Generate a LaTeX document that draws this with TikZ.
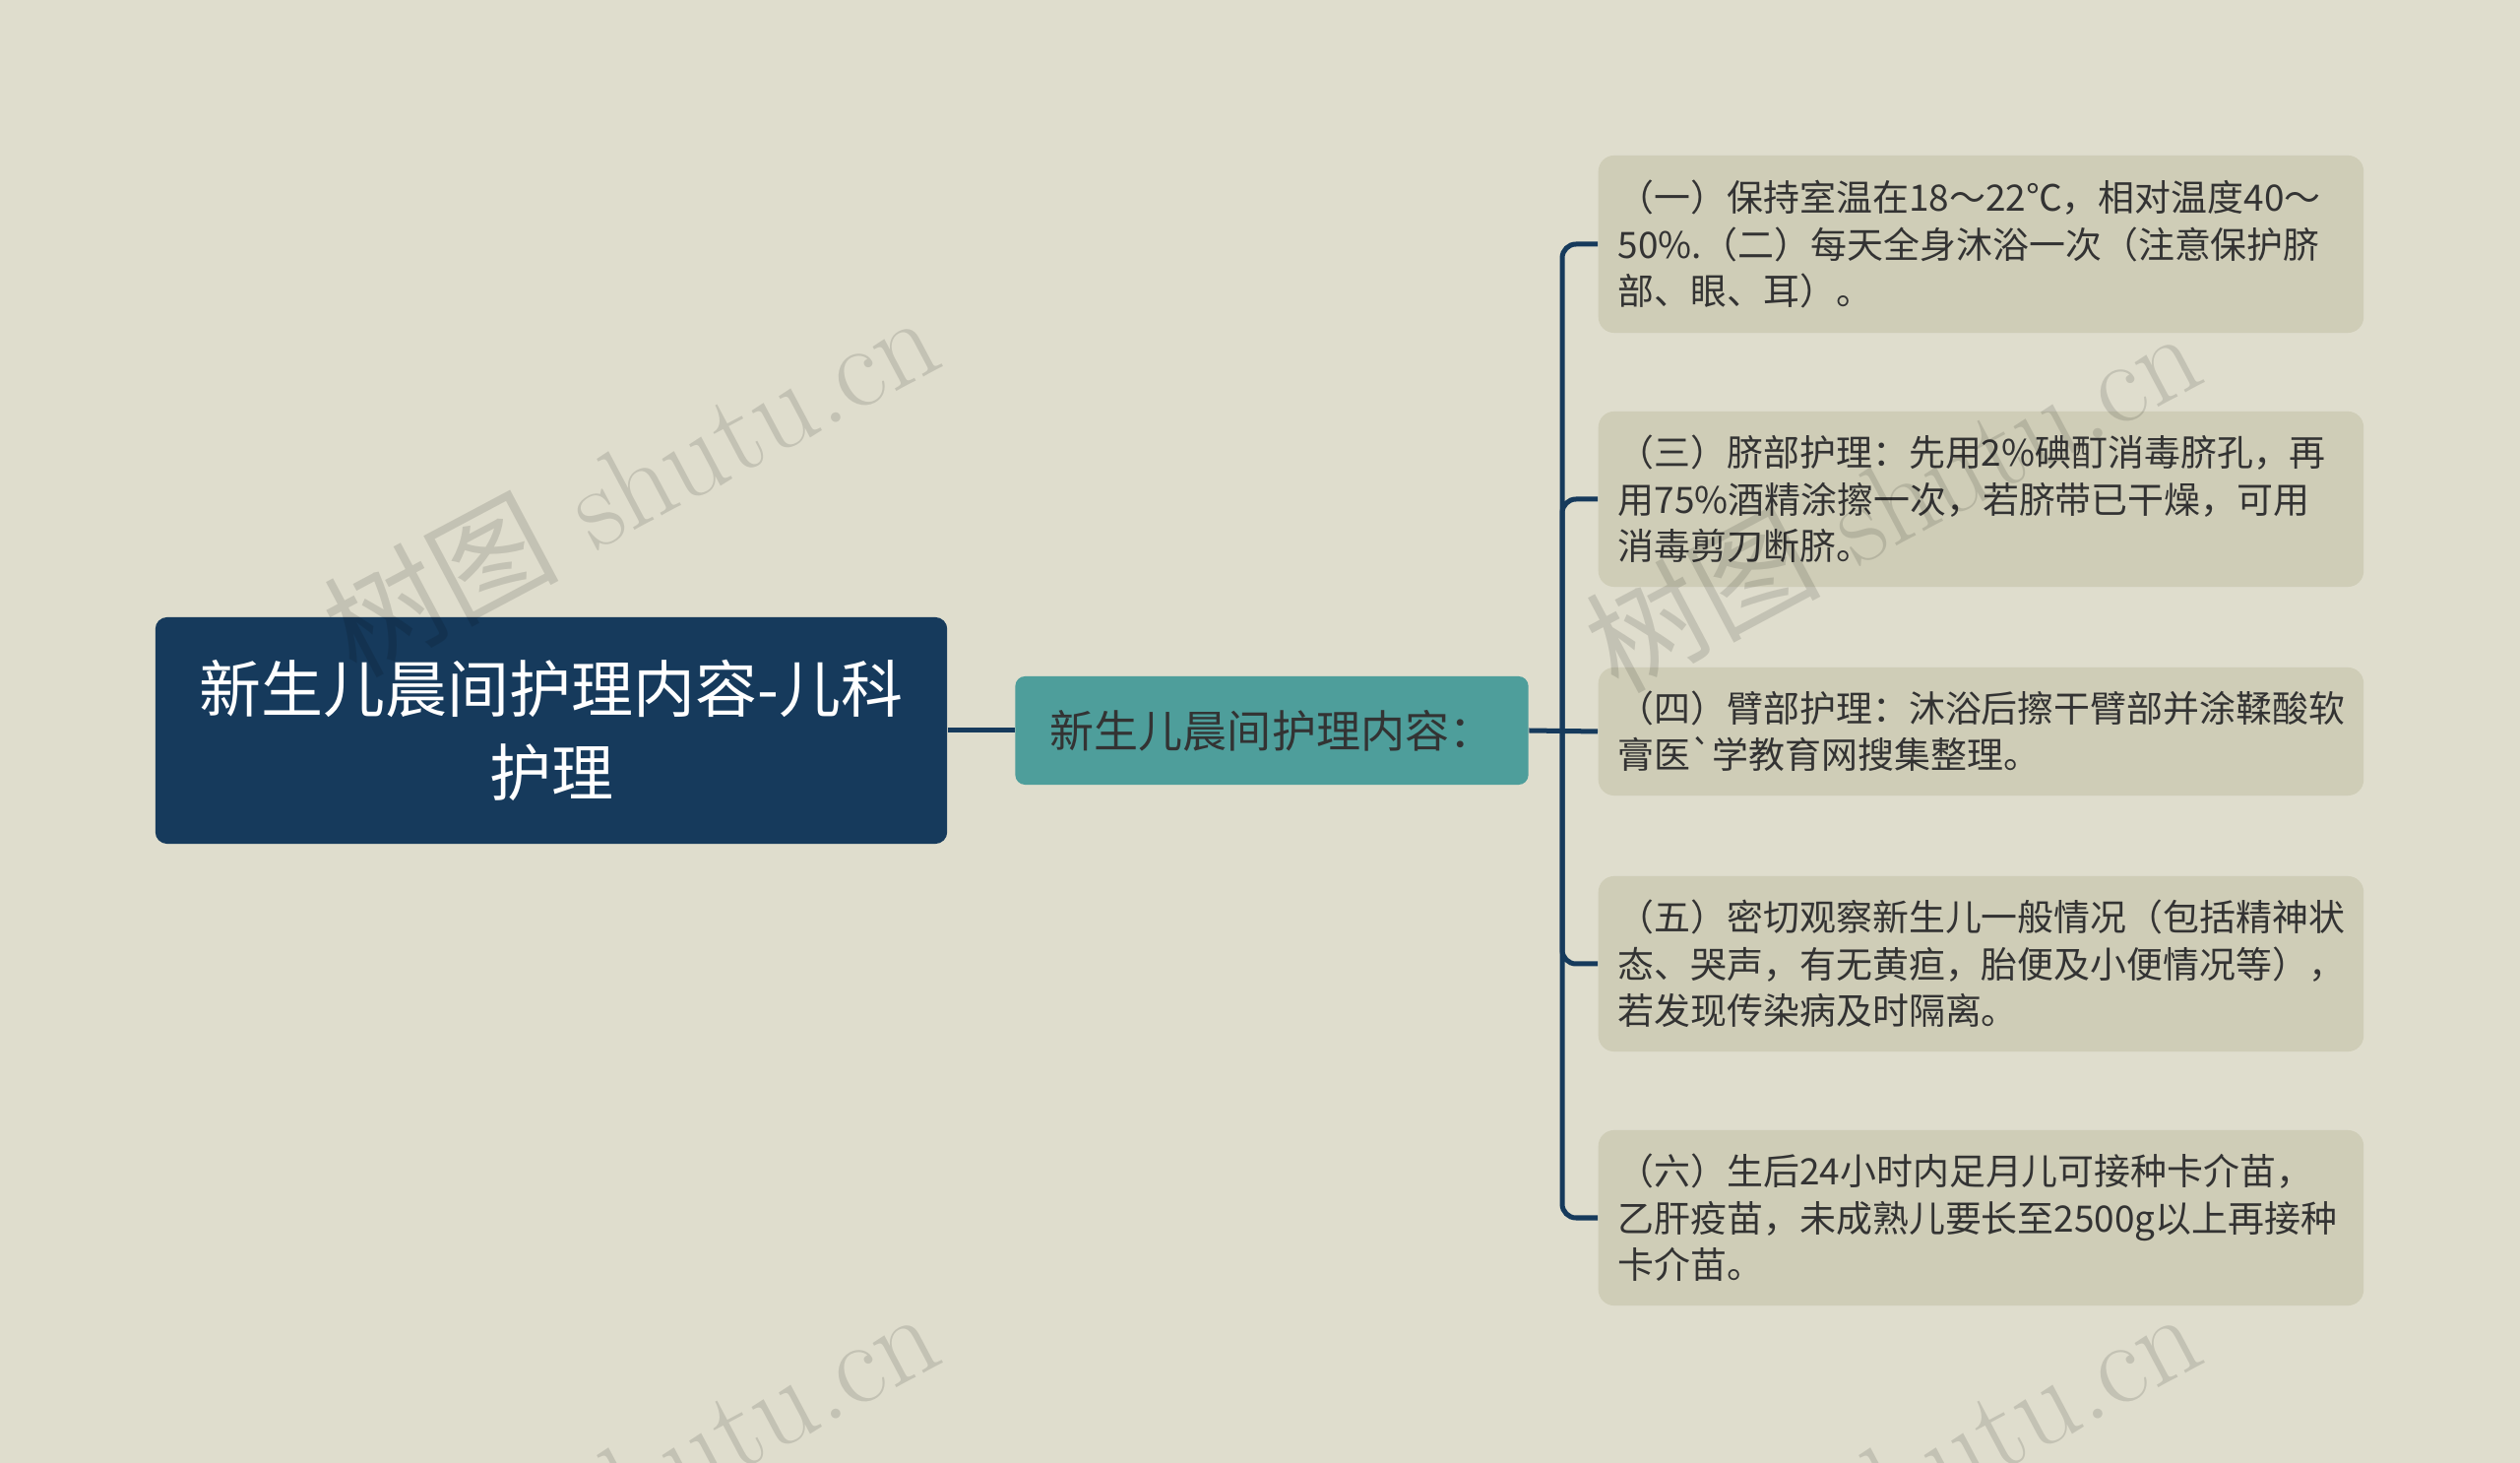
\documentclass[tikz,border=0pt]{standalone}
\usepackage{fontspec}
\newfontfamily\cjk{Noto Sans CJK SC}
\usepackage{tikz}
\usetikzlibrary{positioning}
\definecolor{bgcol}{HTML}{DFDDCD}
\definecolor{rootcol}{HTML}{163A5C}
\definecolor{midcol}{HTML}{4E9E9B}
\definecolor{leafcol}{HTML}{CFCDB7}
\definecolor{txtcol}{HTML}{333333}
\tikzstyle{rootbox} = [fill=rootcol, draw=none, rounded corners=0.12cm, minimum width=8.04cm, minimum height=2.3cm, text=white, align=center, font=\cjk\fontsize{17.9pt}{24.2pt}\selectfont]
\tikzstyle{midbox} = [fill=midcol, draw=none, rounded corners=0.1cm, minimum width=5.21cm, minimum height=1.1cm, text=txtcol, font=\cjk\fontsize{12.8pt}{16pt}\selectfont]
\tikzstyle{leafbox} = [fill=leafcol, draw=none, rounded corners=0.16cm, anchor=west, text width=7.37cm, inner xsep=0.2cm, align=left, text=txtcol, font=\cjk\fontsize{10.5pt}{13.45pt}\selectfont]
\tikzstyle{link} = [draw=rootcol, line width=0.05cm]
\tikzstyle{wmark} = [text=black, opacity=0.12, rotate=28, font=\fontsize{34pt}{38pt}\selectfont]

\begin{document}
\begin{tikzpicture}[x=0.01cm,y=-0.01cm]
    \fill [bgcol] (0,0) rectangle (2560,1486);
    \clip (0,0) rectangle (2560,1486);

    \node [rootbox] (root) at (560,742) {新生儿晨间护理内容-儿科\\护理};
    \node [midbox] (mid) at (1292,742) {新生儿晨间护理内容：};

    \node [leafbox, minimum height=1.8cm] (care1) at (1623,248) {（一）保持室温在18～22℃，相对温度40～\\50\%.（二）每天全身沐浴一次（注意保护脐\\部、眼、耳）。};
    \node [leafbox, minimum height=1.78cm] (care3) at (1623,507) {（三）脐部护理：先用2\%碘酊消毒脐孔，再\\用75\%酒精涂擦一次，若脐带已干燥，可用\\消毒剪刀断脐。};
    \node [leafbox, minimum height=1.3cm] (care4) at (1623,743) {（四）臂部护理：沐浴后擦干臂部并涂鞣酸软\\膏医`学教育网搜集整理。};
    \node [leafbox, minimum height=1.78cm] (care5) at (1623,979) {（五）密切观察新生儿一般情况（包括精神状\\态、哭声，有无黄疸，胎便及小便情况等），\\若发现传染病及时隔离。};
    \node [leafbox, minimum height=1.78cm] (care6) at (1623,1237) {（六）生后24小时内足月儿可接种卡介苗，\\乙肝疫苗，未成熟儿要长至2500g以上再接种\\卡介苗。};

    \coordinate (bus) at (1587,742);

    \draw [link] (root.east) -- (mid.west);
    \draw [link] (mid.east) -- (care4.west);
    \draw [link, rounded corners=0.14cm] (bus) |- (care1.west);
    \draw [link, rounded corners=0.14cm] (bus) |- (care3.west);
    \draw [link, rounded corners=0.14cm] (bus) |- (care5.west);
    \draw [link, rounded corners=0.14cm] (bus) |- (care6.west);

    % watermarks
    \node [wmark] (wm1) at (640,490) {{\cjk 树图} shutu.cn};
    \node [wmark] (wm2) at (1922,506) {{\cjk 树图} shutu.cn};
    \node [wmark] (wm3) at (640,1502) {{\cjk 树图} shutu.cn};
    \node [wmark] (wm4) at (1922,1502) {{\cjk 树图} shutu.cn};
\end{tikzpicture}
\end{document}
